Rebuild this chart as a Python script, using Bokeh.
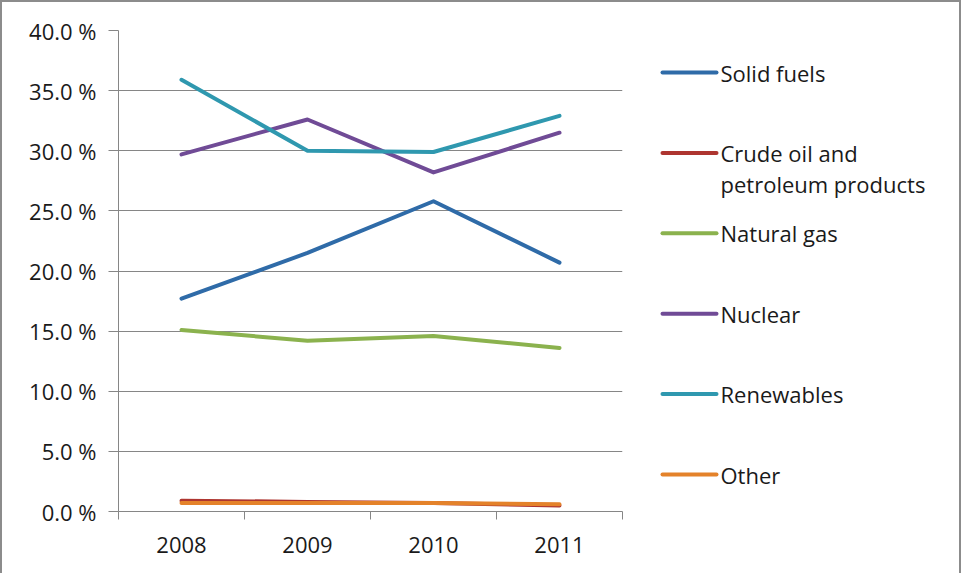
from bokeh.plotting import figure
from bokeh.models import Range1d, FixedTicker, ColumnDataSource
from bokeh.layouts import row
from bokeh.core.properties import value
from bokeh.embed import file_html
from bokeh.resources import INLINE

years = ["2008", "2009", "2010", "2011"]
series_names = ["Solid fuels", "Crude oil and\npetroleum products", "Natural gas",
                "Nuclear", "Renewables", "Other"]
solid_fuels = [17.7, 21.5, 25.8, 20.7]
crude_oil = [0.9, 0.8, 0.7, 0.5]
natural_gas = [15.1, 14.2, 14.6, 13.6]
nuclear = [29.7, 32.6, 28.2, 31.5]
renewables = [35.9, 30.0, 29.9, 32.9]
other = [0.7, 0.7, 0.7, 0.6]
y_ticks = [0, 5, 10, 15, 20, 25, 30, 35, 40]
y_tick_labels = ["0.0 %", "5.0 %", "10.0 %", "15.0 %", "20.0 %", "25.0 %",
                 "30.0 %", "35.0 %", "40.0 %"]

series = [solid_fuels, crude_oil, natural_gas, nuclear, renewables, other]
colors = ["#2F6BA8", "#AE3530", "#8BB24E", "#704B96", "#2F98AF", "#E4822A"]

FONT = "Open Sans"
TXT = "#1a1a1a"
GRID = "#868686"

H = 571
W1 = 650
W2 = 307
FRAME_TOP = 28
FRAME_BOTTOM = 509

p = figure(width=W1, height=H, output_backend="svg", toolbar_location=None,
           x_range=Range1d(0, len(years)), y_range=Range1d(0, 40),
           min_border_left=116, min_border_right=W1 - 620,
           min_border_top=FRAME_TOP, min_border_bottom=H - FRAME_BOTTOM)
p.outline_line_color = None
p.background_fill_color = "white"
p.border_fill_color = "white"

xs = [i + 0.5 for i in range(len(years))]
for vals, col in zip(series, colors):
    p.line(xs, vals, line_color=col, line_width=4, line_cap="round", line_join="round")

# y axis
ya = p.yaxis[0]
ya.ticker = FixedTicker(ticks=y_ticks)
ya.major_label_overrides = {t: l for t, l in zip(y_ticks, y_tick_labels)}
ya.major_tick_out = 10
ya.major_tick_in = 0
ya.minor_tick_out = 0
ya.minor_tick_in = 0
ya.axis_line_color = GRID
ya.major_tick_line_color = GRID
ya.major_label_text_font = FONT
ya.major_label_text_font_size = "22px"
ya.major_label_text_color = TXT
ya.major_label_standoff = 12

# x axis
xa = p.xaxis[0]
xa.ticker = FixedTicker(ticks=xs, minor_ticks=list(range(len(years) + 1)))
xa.major_label_overrides = {x: y for x, y in zip(xs, years)}
xa.major_tick_out = 0
xa.major_tick_in = 0
xa.minor_tick_out = 8
xa.minor_tick_in = 0
xa.minor_tick_line_color = GRID
xa.axis_line_color = GRID
xa.major_label_text_font = FONT
xa.major_label_text_font_size = "22px"
xa.major_label_text_color = TXT
xa.major_label_standoff = 17

p.xgrid.grid_line_color = None
p.ygrid.ticker = FixedTicker(ticks=y_ticks)
p.ygrid.grid_line_color = GRID
p.ygrid.grid_line_width = 1

# legend panel (its frame is aligned with the main frame by the row layout)
pitch = 80.4
first = 70          # first item centre, px from top of figure
n = len(series_names)
leg = figure(width=W2, height=H, output_backend="svg", toolbar_location=None,
             x_range=Range1d(0, W2),
             y_range=Range1d(start=(FRAME_BOTTOM - first) / pitch,
                             end=-(first - FRAME_TOP) / pitch),
             x_axis_location=None, y_axis_location=None,
             min_border_left=0, min_border_right=0,
             min_border_top=FRAME_TOP, min_border_bottom=H - FRAME_BOTTOM)
leg.outline_line_color = None
leg.grid.visible = False
leg.background_fill_color = "white"
leg.border_fill_color = "white"

idx = list(range(n))
line_px = 31
offsets = [(s.count("\n")) * line_px / 2 for s in series_names]
src = ColumnDataSource(dict(i=idx, x0=[10] * n, x1=[64] * n, tx=[68] * n,
                            name=series_names, col=colors, off=offsets))
leg.segment(x0="x0", y0="i", x1="x1", y1="i", line_color="col", line_width=4,
            line_cap="round", source=src)
leg.text(x="tx", y="i", text="name", text_baseline="middle", text_align="left",
         y_offset="off", text_font=value(FONT), text_font_size="22px",
         text_color=TXT, text_line_height=1.03, source=src)

layout = row(p, leg, styles={"border-left": "2px solid #8c8c8c",
                             "border-top": "2px solid #8c8c8c",
                             "border-right": "2px solid #8c8c8c"})

open("out.html", "w").write(file_html(layout, INLINE))
